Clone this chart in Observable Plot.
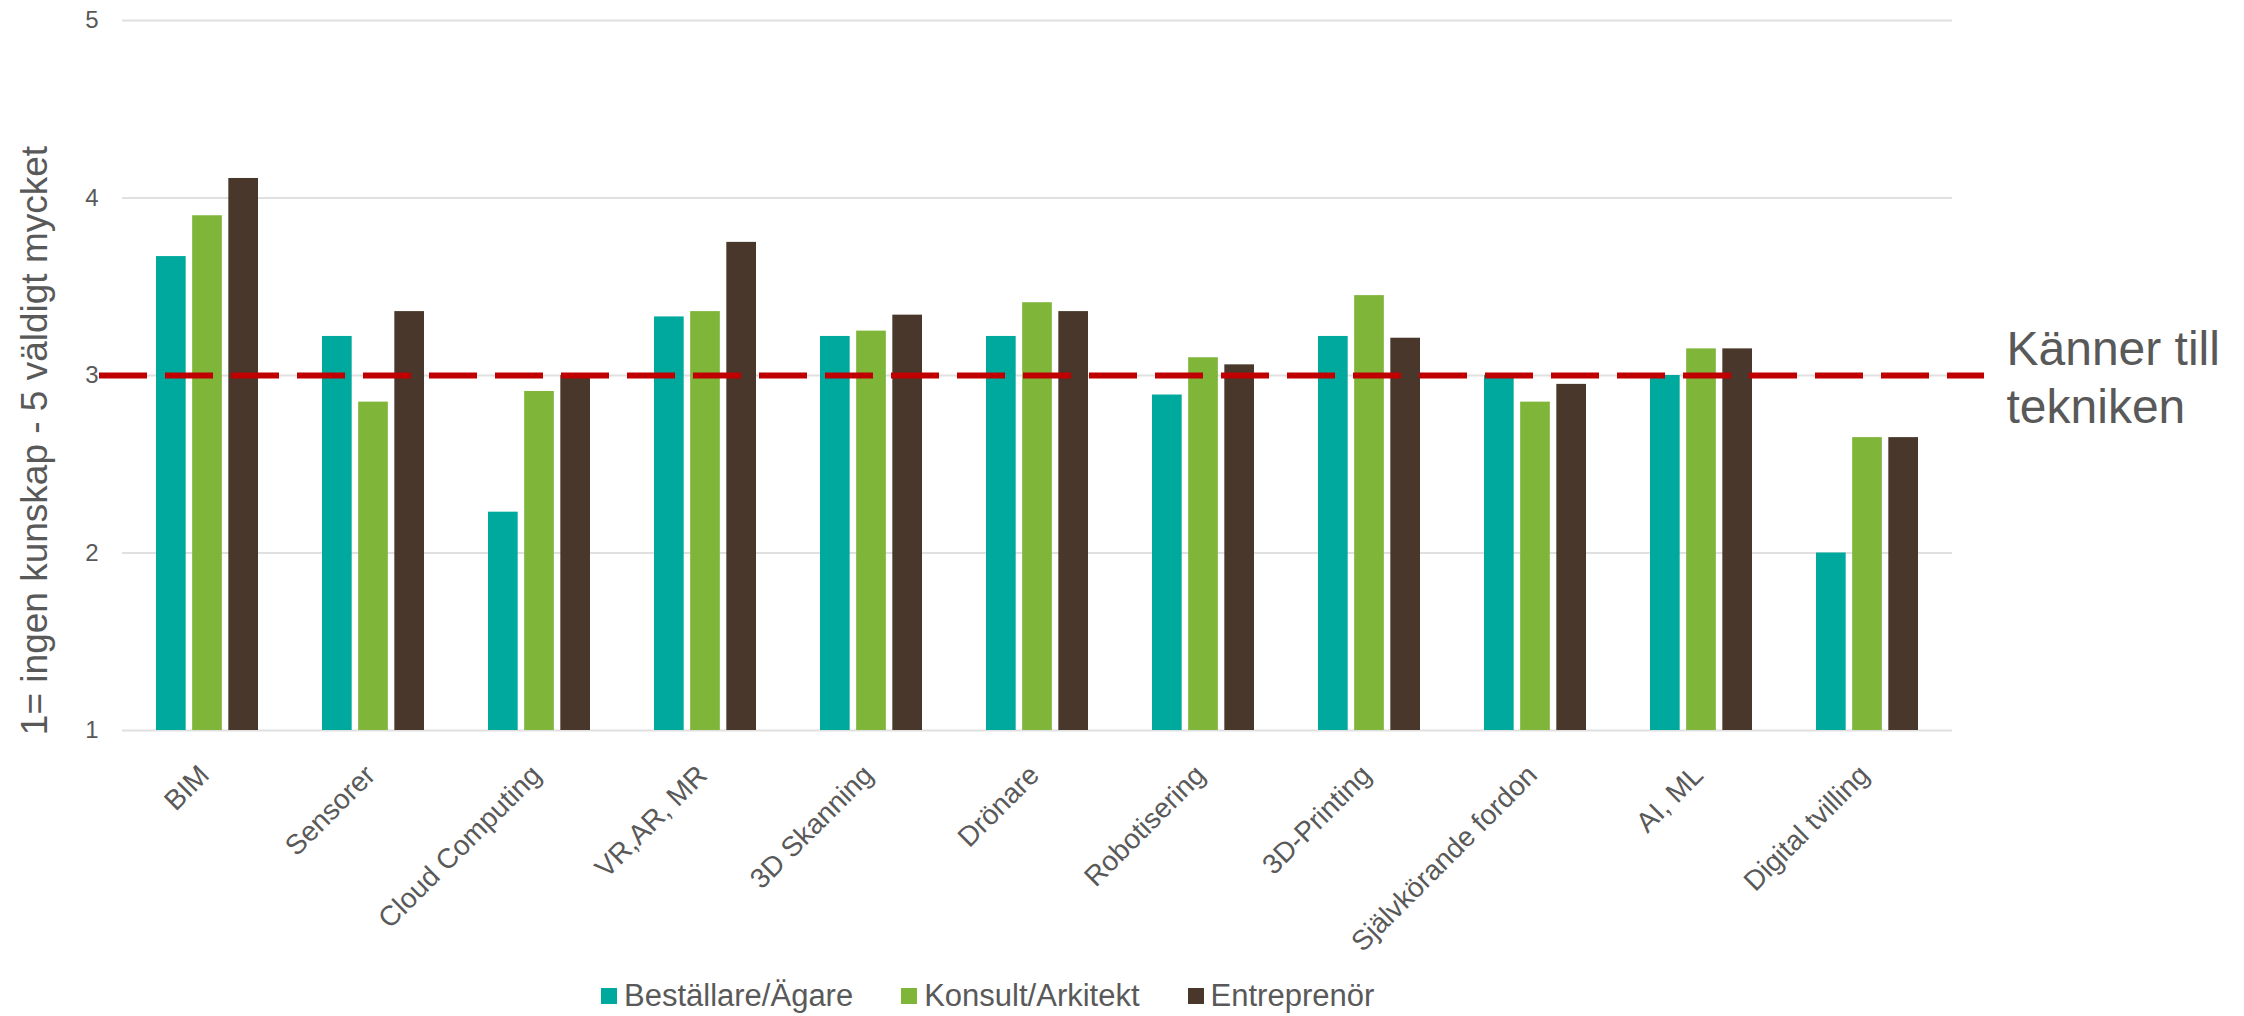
<!DOCTYPE html>
<html>
<head>
<meta charset="utf-8">
<script src="https://cdn.jsdelivr.net/npm/d3@7"></script>
<script src="https://cdn.jsdelivr.net/npm/@observablehq/plot@0.6"></script>
<style>
  body { margin: 0; background: #fff; font-family: "Liberation Sans", Arial, sans-serif; }
  #chart { width: 2244px; position: relative; }
  #legend { margin-left: 601px; }
  .lg-swatches { font-family: "Liberation Sans", Arial, sans-serif !important; font-size: 31px !important; color: #595959 !important; min-height: 40px !important; }
  .lg-swatch { margin-right: 48px !important; }
  .lg-swatch > svg { margin-right: 7px !important; }
</style>
</head>
<body>
<div id="chart"></div>
<script>
const categories = ["BIM", "Sensorer", "Cloud Computing", "VR,AR, MR", "3D Skanning", "Drönare", "Robotisering", "3D-Printing", "Självkörande fordon", "AI, ML", "Digital tvilling"];
const seriesNames = ["Beställare/Ägare", "Konsult/Arkitekt", "Entreprenör"];
const bestallare = [3.67, 3.22, 2.23, 3.33, 3.22, 3.22, 2.89, 3.22, 3.00, 3.00, 2.00];
const konsult = [3.90, 2.85, 2.91, 3.36, 3.25, 3.41, 3.10, 3.45, 2.85, 3.15, 2.65];
const entreprenor = [4.11, 3.36, 3.00, 3.75, 3.34, 3.36, 3.06, 3.21, 2.95, 3.15, 2.65];
const colors = ["#00A99D", "#7FB539", "#48372A"];
const yTicks = [1, 2, 3, 4, 5];
const threshold = 3;
const thresholdLabel = "Känner till\ntekniken";
const yTitle = "1= ingen kunskap - 5 väldigt mycket";

const seriesValues = [bestallare, konsult, entreprenor];
const table = categories.flatMap((c, i) =>
  seriesNames.map((s, k) => ({category: c, series: s, value: seriesValues[k][i]}))
);

const font = "'Liberation Sans', Arial, sans-serif";
const textColor = "#595959";

const W = 2244, H = 976;
const margins = {marginTop: 20, marginBottom: 246, marginLeft: 122, marginRight: 292};
const xOptions = {type: "band", domain: categories, paddingInner: 0.387, paddingOuter: 0.194};

// band geometry from Plot's own band scale
const xScale = Plot.scale({x: {...xOptions, range: [margins.marginLeft, W - margins.marginRight]}});
const bw = xScale.bandwidth;
const sub = d3.scaleBand().domain(seriesNames).range([0, bw]).paddingInner(0.18).paddingOuter(0);

const barMarks = seriesNames.map((s) =>
  Plot.barY(table.filter((d) => d.series === s), {
    x: "category", y1: 1, y2: "value", fill: "series",
    insetLeft: sub(s), insetRight: bw - sub(s) - sub.bandwidth()
  })
);

const plot = Plot.plot({
  width: W,
  height: H,
  ...margins,
  style: {fontFamily: font, color: textColor, background: "white", overflow: "visible"},
  x: {...xOptions, label: null},
  y: {domain: [1, 5], label: null},
  color: {domain: seriesNames, range: colors},
  marks: [
    Plot.ruleY(yTicks, {stroke: "#E0E0E0", strokeWidth: 2}),
    ...barMarks,
    Plot.ruleY([threshold], {stroke: "#C00000", strokeWidth: 6, strokeDasharray: "48,18", insetLeft: -23, insetRight: -32}),
    Plot.axisY({ticks: yTicks, tickFormat: "d", tickSize: 0, tickPadding: 24, fontSize: 24, fill: textColor, label: null}),
    Plot.axisX({anchor: "bottom", tickRotate: -45, tickSize: 0, tickPadding: 40, dx: -3, fontSize: 28, fill: textColor, label: null}),
    Plot.text([{label: thresholdLabel, y: threshold}], {frameAnchor: "right", y: "y", text: "label", dx: 54, textAnchor: "start", lineAnchor: "middle", lineHeight: 1.2, fontSize: 48, fill: textColor}),
    Plot.text([yTitle], {frameAnchor: "left", textAnchor: "middle", lineAnchor: "middle", rotate: -90, dx: -87, dy: 65, fontSize: 37, fill: textColor})
  ]
});

const legend = Plot.legend({
  color: {domain: seriesNames, range: colors},
  swatchSize: 16,
  className: "lg"
});

const chart = document.getElementById("chart");
chart.appendChild(plot);
const lgWrap = document.createElement("div");
lgWrap.id = "legend";
lgWrap.appendChild(legend);
chart.appendChild(lgWrap);
</script>
</body>
</html>
